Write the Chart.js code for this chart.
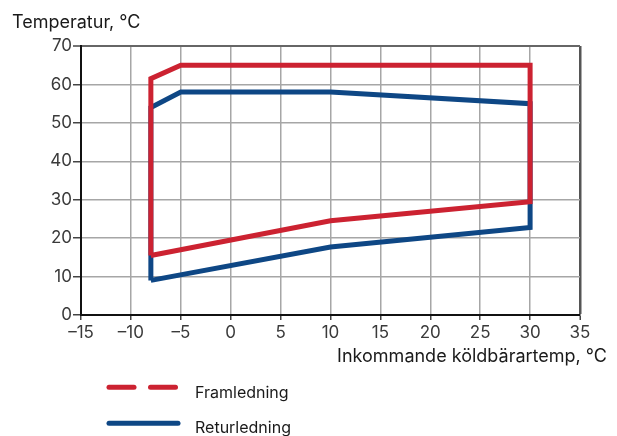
<!DOCTYPE html>
<html>
<head>
<meta charset="utf-8">
<script src="https://cdn.jsdelivr.net/npm/chart.js@4.4.0/dist/chart.umd.min.js"></script>
<style>
  html, body { margin: 0; padding: 0; background: #fff; }
  #wrap { position: relative; width: 617px; height: 436px; font-family: Inter, "Noto Sans", sans-serif; color: #1a1a1a; }
  canvas { position: absolute; left: 0; top: 0; }
  .t { position: absolute; font-size: 18px; white-space: nowrap; line-height: 22px; }
  .leg { position: absolute; font-size: 16px; white-space: nowrap; line-height: 19px; }
</style>
</head>
<body>
<div id="wrap">
  <canvas id="c" width="617" height="436"></canvas>
  <div class="t" id="ytitle" style="left:12px; top:11px;">Temperatur, °C</div>
  <div class="t" id="xtitle" style="right:10px; top:345px;">Inkommande köldbärartemp, °C</div>
  <svg style="position:absolute; left:0; top:370px;" width="200" height="66">
    <line x1="109" y1="17.3" x2="134" y2="17.3" stroke="#cc2231" stroke-width="5" stroke-linecap="round"/>
    <line x1="150.5" y1="17.3" x2="175.5" y2="17.3" stroke="#cc2231" stroke-width="5" stroke-linecap="round"/>
    <line x1="109" y1="53.3" x2="178" y2="53.3" stroke="#0e4785" stroke-width="5" stroke-linecap="round"/>
  </svg>
  <div class="leg" style="left:195px; top:383px;">Framledning</div>
  <div class="leg" style="left:195px; top:418px;">Returledning</div>
</div>
<script>
const seriesNames = ['Framledning', 'Returledning'];
const framX = [-8, -8, -5, 30, 30, 10, -8];
const framY = [15.5, 61.5, 65, 65, 29.5, 24.5, 15.5];
const returX = [-8, -8, -5, 10, 30, 30, 10, -8];
const returY = [9, 54, 58, 58, 55, 22.8, 17.7, 9];
const xTicks = [-15, -10, -5, 0, 5, 10, 15, 20, 25, 30, 35];
const yTicks = [0, 10, 20, 30, 40, 50, 60, 70];

const toPts = (xs, ys) => xs.map((x, i) => ({ x: x, y: ys[i] }));

new Chart(document.getElementById('c'), {
  type: 'scatter',
  data: {
    datasets: [
      { label: seriesNames[0], data: toPts(framX, framY), showLine: true, borderColor: '#cc2231', borderWidth: 5, pointRadius: 0, borderJoinStyle: 'miter', fill: false },
      { label: seriesNames[1], data: toPts(returX, returY), showLine: true, borderColor: '#0e4785', borderWidth: 5, pointRadius: 0, borderJoinStyle: 'miter', fill: false }
    ]
  },
  options: {
    responsive: false,
    animation: false,
    devicePixelRatio: 1,
    layout: { padding: { left: 0, right: 37, top: 46, bottom: 91 } },
    plugins: { legend: { display: false }, tooltip: { enabled: false } },
    scales: {
      x: {
        type: 'linear', min: xTicks[0], max: xTicks[xTicks.length - 1],
        afterBuildTicks: s => { s.ticks = xTicks.map(v => ({ value: v })); },
        afterFit: s => { s.height = 30; },
        ticks: { padding: 3, color: '#3a3a3a', font: { family: 'Inter', size: 17 },
          callback: v => String(v).replace('-', '\u2013') },
        grid: {
          color: c => (c.tick && c.tick.value === 35) ? '#555' : '#a6a6a6',
          lineWidth: c => (c.tick && c.tick.value === 35) ? 2.5 : 1.5,
          tickLength: 5, tickColor: '#444', tickWidth: 1.5
        },
        border: { color: '#111', width: 2 }
      },
      y: {
        type: 'linear', min: yTicks[0], max: yTicks[yTicks.length - 1],
        afterBuildTicks: s => { s.ticks = yTicks.map(v => ({ value: v })); },
        afterFit: s => { s.width = 81; },
        ticks: { padding: 1, color: '#3a3a3a', font: { family: 'Inter', size: 17 } },
        grid: {
          color: c => (c.tick && c.tick.value === 70) ? '#666' : '#a6a6a6',
          lineWidth: c => (c.tick && c.tick.value === 70) ? 2 : 1.5,
          tickLength: 8, tickColor: '#444', tickWidth: 1.5
        },
        border: { color: '#111', width: 2 }
      }
    }
  }
});
</script>
</body>
</html>
